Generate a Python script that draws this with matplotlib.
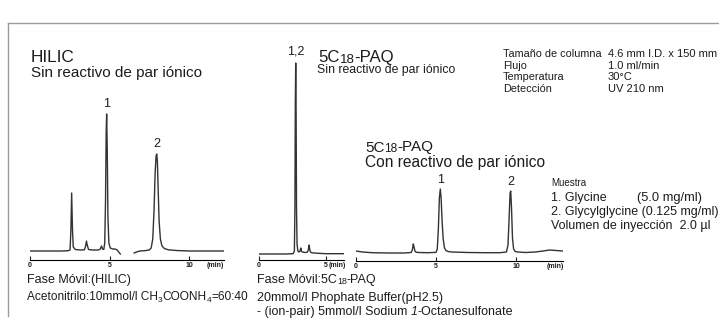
import matplotlib
matplotlib.use("Agg")
import matplotlib.pyplot as plt
import numpy as np
from matplotlib.lines import Line2D

plt.rcParams["font.family"] = ["Liberation Sans", "DejaVu Sans"]

# --- data (time in min, signal in arbitrary units) ---
# HILIC, no ion-pair reagent (trace has a gap between the two pieces)
hilic_t1 = [0, 0.5, 1.0, 1.5, 2.0, 2.4, 2.52, 2.57, 2.62, 2.67, 2.72, 2.85, 3.2, 3.42, 3.5,
            3.55, 3.6, 3.68, 3.9, 4.3, 4.42, 4.5, 4.56, 4.64, 4.7, 4.75, 4.79, 4.82, 4.86, 4.9,
            4.96, 5.05, 5.2, 5.35, 5.48, 5.58, 5.68]
hilic_y1 = [0, 0, 0, 0, 0, 0.3, 1, 20, 58, 22, 4, 1.5, 1, 1.2, 5,
            10, 6, 1.5, 1, 1, 2, 5, 2, 1.5, 8, 50, 118, 137, 100, 35,
            8, 3, 2, 2, 1, -1, -3]
hilic_t2 = [6.55, 6.7, 6.9, 7.2, 7.5, 7.62, 7.72, 7.8, 7.87, 7.93, 7.97, 8.01, 8.06, 8.12,
            8.2, 8.3, 8.45, 8.7, 9.2, 10, 11, 12.2]
hilic_y2 = [-2, -1, 0, 0.3, 1, 3, 12, 40, 78, 95, 97, 90, 62, 30,
            12, 5, 2.5, 1.2, 0.5, 0, 0, 0]
hilic_ticks = [0, 5, 10]
hilic_peaks = ["1", "2"]
hilic_peak_rt = [4.82, 7.97]

# 5C18-PAQ, no ion-pair reagent
paq_t = [0, 1.0, 2.0, 2.55, 2.64, 2.68, 2.71, 2.74, 2.77, 2.80, 2.84, 2.9, 2.98, 3.06, 3.12,
         3.17, 3.24, 3.4, 3.6, 3.68, 3.74, 3.78, 3.84, 3.95, 4.3, 5.0, 6.34]
paq_y = [0, 0, 0, 0.3, 3, 45, 150, 191, 140, 45, 10, 3, 2, 3, 6,
         2.5, 2, 1.5, 1.8, 4, 9, 5, 2, 1.2, 0.8, 0.3, 0.3]
paq_ticks = [0, 5]
paq_peaks = ["1,2"]
paq_peak_rt = [2.74]

# 5C18-PAQ, with ion-pair reagent
ip_t = [0, 0.4, 1.0, 2.0, 3.0, 3.45, 3.52, 3.58, 3.63, 3.68, 3.76, 3.9, 4.5, 5.0, 5.08,
        5.15, 5.21, 5.27, 5.32, 5.38, 5.45, 5.53, 5.62, 5.75, 6.0, 7.0, 8.0, 9.0, 9.4, 9.5,
        9.57, 9.63, 9.67, 9.72, 9.78, 9.85, 9.95, 10.1, 10.6, 11.2, 11.7, 12.1, 12.5, 12.94]
ip_y = [2, 1, 0.3, 0, 0, 0.5, 3, 9, 6, 2, 0.8, 0.5, 0.3, 0.6, 4,
        25, 55, 64, 55, 32, 14, 5, 2.5, 1.5, 1, 0.5, 0.3, 0.3, 1, 8,
        35, 60, 62, 45, 15, 4, 1.5, 1, 0.5, 1, 2, 3, 2.5, 2]
ip_ticks = [0, 5, 10]
ip_peaks = ["1", "2"]
ip_peak_rt = [5.27, 9.67]

cond_labels = ["Tamaño de columna", "Flujo", "Temperatura", "Detección"]
cond_values = ["4.6 mm I.D. x 150 mm", "1.0 ml/min", "30°C", "UV 210 nm"]

W, H = 719, 320
fig = plt.figure(figsize=(W / 100, H / 100), dpi=100)
renderer = fig.canvas.get_renderer()
INK = "#1c1c1c"
TRACE = "#333333"


def ftext(px, py, s, size, **kw):
    return fig.text(px / W, 1 - py / H, s, fontsize=size, color=INK,
                    ha="left", va="baseline", **kw)


def rich(px, py, pieces):
    # pieces: (text, size, drop in px, style, gap after in px)
    x = px
    for s, size, drop, style, gap in pieces:
        t = ftext(x, py + drop, s, size, style=style)
        x += t.get_window_extent(renderer).width + gap


def chrom_axes(left, right, axis_y, px_per_min, base_off, top=40):
    ax = fig.add_axes([left / W, 1 - axis_y / H, (right - left) / W, (axis_y - top) / H])
    ax.set_xlim(0, (right - left) / px_per_min)
    ax.set_ylim(-base_off, (axis_y - top) - base_off)
    for s in ["top", "left", "right"]:
        ax.spines[s].set_visible(False)
    ax.spines["bottom"].set_linewidth(0.8)
    ax.set_yticks([])
    ax.patch.set_visible(False)
    ax.tick_params(axis="x", direction="in", length=3, width=0.8, pad=1.2, colors=INK)
    return ax


def time_axis(ax, ticks, min_at):
    ax.set_xticks(ticks + [min_at], [str(t) for t in ticks] + ["(min)"],
                  fontsize=5, fontweight="bold")
    ax.xaxis.get_major_ticks()[-1].tick1line.set_visible(False)


def peak_labels(ax, t, y, names, rts, gap=7):
    for name, rt in zip(names, rts):
        ax.text(rt, np.interp(rt, t, y) + gap, name, ha="center", va="baseline",
                fontsize=9, color=INK)


# HILIC panel
ax1 = chrom_axes(30, 224, 260, 15.9, 9)
ax1.plot(hilic_t1, hilic_y1, color=TRACE, lw=1.0)
ax1.plot(hilic_t2, hilic_y2, color=TRACE, lw=1.0)
time_axis(ax1, hilic_ticks, 11.67)
peak_labels(ax1, hilic_t1 + hilic_t2, hilic_y1 + hilic_y2, hilic_peaks, hilic_peak_rt)

# 5C18-PAQ without ion-pair
ax2 = chrom_axes(259, 344, 260, 13.4, 6)
ax2.plot(paq_t, paq_y, color=TRACE, lw=1.0)
time_axis(ax2, paq_ticks, 5.86)
peak_labels(ax2, paq_t, paq_y, paq_peaks, paq_peak_rt, gap=9)

# 5C18-PAQ with ion-pair
ax3 = chrom_axes(356, 563, 261, 16.0, 8)
ax3.plot(ip_t, ip_y, color=TRACE, lw=1.0)
time_axis(ax3, ip_ticks, 12.44)
peak_labels(ax3, ip_t, ip_y, ip_peaks, ip_peak_rt, gap=6)

# frame
fig.add_artist(Line2D([8 / W, 1], [1 - 23 / H, 1 - 23 / H], color="#9c9c9c", lw=1.0))
fig.add_artist(Line2D([8 / W, 8 / W], [1 - 23 / H, 1 - 316 / H], color="#9c9c9c", lw=1.0))

# titles
ftext(31, 61.5, "HILIC", 12.4)
ftext(31, 76.5, "Sin reactivo de par iónico", 11)
rich(318, 62, [("5C", 12.1, 0, "normal", 0), ("18", 9.5, 0.8, "normal", 0),
               ("-PAQ", 12.1, 0, "normal", 0)])
ftext(317, 73.5, "Sin reactivo de par iónico", 8.8)
rich(365, 151.5, [("5C", 11, 0, "normal", 0), ("18", 8.6, 0.8, "normal", 0),
                  ("-PAQ", 11, 0, "normal", 0)])
ftext(365, 166.5, "Con reactivo de par iónico", 11.2)

# conditions
for i, (lab, val) in enumerate(zip(cond_labels, cond_values)):
    yb = 57.3 + i * 11.4
    ftext(503, yb, lab, 7.8)
    ftext(608, yb, val, 8)

# sample
ftext(551, 186, "Muestra", 7)
ftext(551, 200.7, "1. Glycine", 9)
ftext(637, 200.7, "(5.0 mg/ml)", 9.3)
ftext(551, 214.7, "2. Glycylglycine (0.125 mg/ml)", 9)
ftext(551, 228.5, "Volumen de inyección  2.0 µl", 9)

# mobile phases
ftext(27, 283, "Fase Móvil:(HILIC)", 9)
rich(27, 300.5, [("Acetonitrilo:10mmol/l CH", 8.6, 0, "normal", 0), ("3", 6, 1.5, "normal", 0),
                 ("COONH", 8.6, 0, "normal", 0), ("4", 6, 1.5, "normal", 0),
                 ("=60:40", 8.6, 0, "normal", 0)])
rich(257, 283, [("Fase Móvil:5C", 9, 0, "normal", 0), ("18", 6.3, 1.5, "normal", 0),
                ("-PAQ", 9, 0, "normal", 0)])
ftext(257, 300.5, "20mmol/l Phophate Buffer(pH2.5)", 9)
rich(257, 315, [("- (ion-pair) 5mmol/l Sodium", 9, 0, "normal", 3.5),
                ("1", 9, 0, "italic", 0), ("-Octanesulfonate", 9, 0, "normal", 0)])

fig.savefig("out.png", dpi=100)
